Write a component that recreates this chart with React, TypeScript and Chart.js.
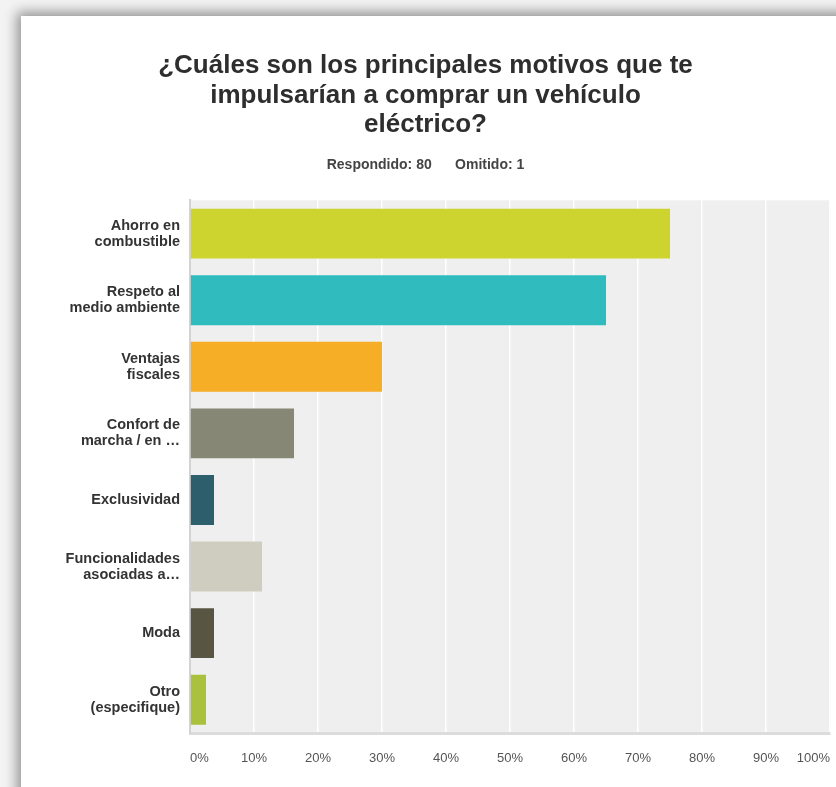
import React, { useEffect, useRef } from "react";
import { Chart, registerables } from "chart.js";

Chart.register(...registerables);

const titleLines = [
  "¿Cuáles son los principales motivos que te",
  "impulsarían a comprar un vehículo",
  "eléctrico?",
];
const subtitleText = "Respondido: 80      Omitido: 1";

const categories: string[][] = [
  ["Ahorro en", "combustible"],
  ["Respeto al", "medio ambiente"],
  ["Ventajas", "fiscales"],
  ["Confort de", "marcha / en …"],
  ["Exclusividad"],
  ["Funcionalidades", "asociadas a…"],
  ["Moda"],
  ["Otro", "(especifique)"],
];
const percentValues = [75, 65, 30, 16.25, 3.75, 11.25, 3.75, 2.5];
const barColors = [
  "#cdd32f",
  "#30bcbe",
  "#f5ae26",
  "#878775",
  "#2c5e6b",
  "#cfcdbf",
  "#585643",
  "#a9c13d",
];
const tickValues = [0, 10, 20, 30, 40, 50, 60, 70, 80, 90, 100];

const FONT = '"Liberation Sans", Arial, Helvetica, sans-serif';

const plotBg = {
  id: "plotBg",
  beforeDraw(chart: any) {
    const { ctx, chartArea } = chart;
    if (!chartArea) return;
    ctx.save();
    ctx.fillStyle = "#efefef";
    ctx.fillRect(
      chartArea.left,
      chartArea.top,
      chartArea.right - chartArea.left,
      chartArea.bottom - chartArea.top
    );
    ctx.restore();
  },
};

export default function App() {
  const ref = useRef<HTMLCanvasElement | null>(null);

  useEffect(() => {
    if (!ref.current) return;
    const chart = new Chart(ref.current, {
      type: "bar",
      data: {
        labels: categories,
        datasets: [
          {
            data: percentValues,
            backgroundColor: barColors,
            borderWidth: 0,
            barPercentage: 0.75,
            categoryPercentage: 1,
          },
        ],
      },
      plugins: [plotBg],
      options: {
        indexAxis: "y",
        animation: false,
        responsive: false,
        maintainAspectRatio: false,
        layout: { padding: { left: 0, right: 6, top: 0, bottom: 0 } },
        plugins: {
          legend: { display: false },
          tooltip: { enabled: false },
          title: {
            display: true,
            text: titleLines,
            color: "#2e2e2e",
            font: { family: FONT, size: 26, weight: "bold", lineHeight: 1.14 },
            padding: { top: 35, bottom: 17 },
          },
          subtitle: {
            display: true,
            text: subtitleText,
            color: "#444444",
            font: { family: FONT, size: 14, weight: "bold", lineHeight: 1.2 },
            padding: { top: 0, bottom: 26.6 },
          },
        },
        scales: {
          x: {
            type: "linear",
            min: 0,
            max: 100,
            afterBuildTicks(scale: any) {
              scale.ticks = tickValues.map((v) => ({ value: v }));
            },
            afterFit(scale: any) {
              scale.height = 54;
              scale.paddingLeft = 0;
              scale.paddingRight = 0;
            },
            grid: {
              color: "#ffffff",
              lineWidth: 1.5,
              drawTicks: false,
            },
            border: { display: true, color: "#dcdcdc", width: 3 },
            ticks: {
              align: "inner",
              padding: 18,
              color: "#555555",
              font: { family: FONT, size: 13 },
              callback: (v: any) => v + "%",
            },
          },
          y: {
            afterFit(scale: any) {
              scale.width = 169;
            },
            grid: { display: false, drawTicks: false },
            border: { display: true, color: "#d3d3d3", width: 2 },
            ticks: {
              padding: 10,
              color: "#333333",
              font: { family: FONT, size: 14.5, weight: "bold", lineHeight: 1.1 },
            },
          },
        },
      },
    });
    return () => chart.destroy();
  }, []);

  return (
    <div
      style={{
        position: "fixed",
        left: 0,
        top: 0,
        width: 836,
        height: 787,
        background: "#f3f3f3",
        overflow: "hidden",
      }}
    >
      <div
        style={{
          position: "absolute",
          left: 21,
          top: 16,
          width: 840,
          height: 800,
          background: "#ffffff",
          boxShadow: "0 0 12px 4px rgba(0,0,0,0.4)",
        }}
      >
        <canvas ref={ref} width={815} height={771} style={{ display: "block" }} />
      </div>
    </div>
  );
}
